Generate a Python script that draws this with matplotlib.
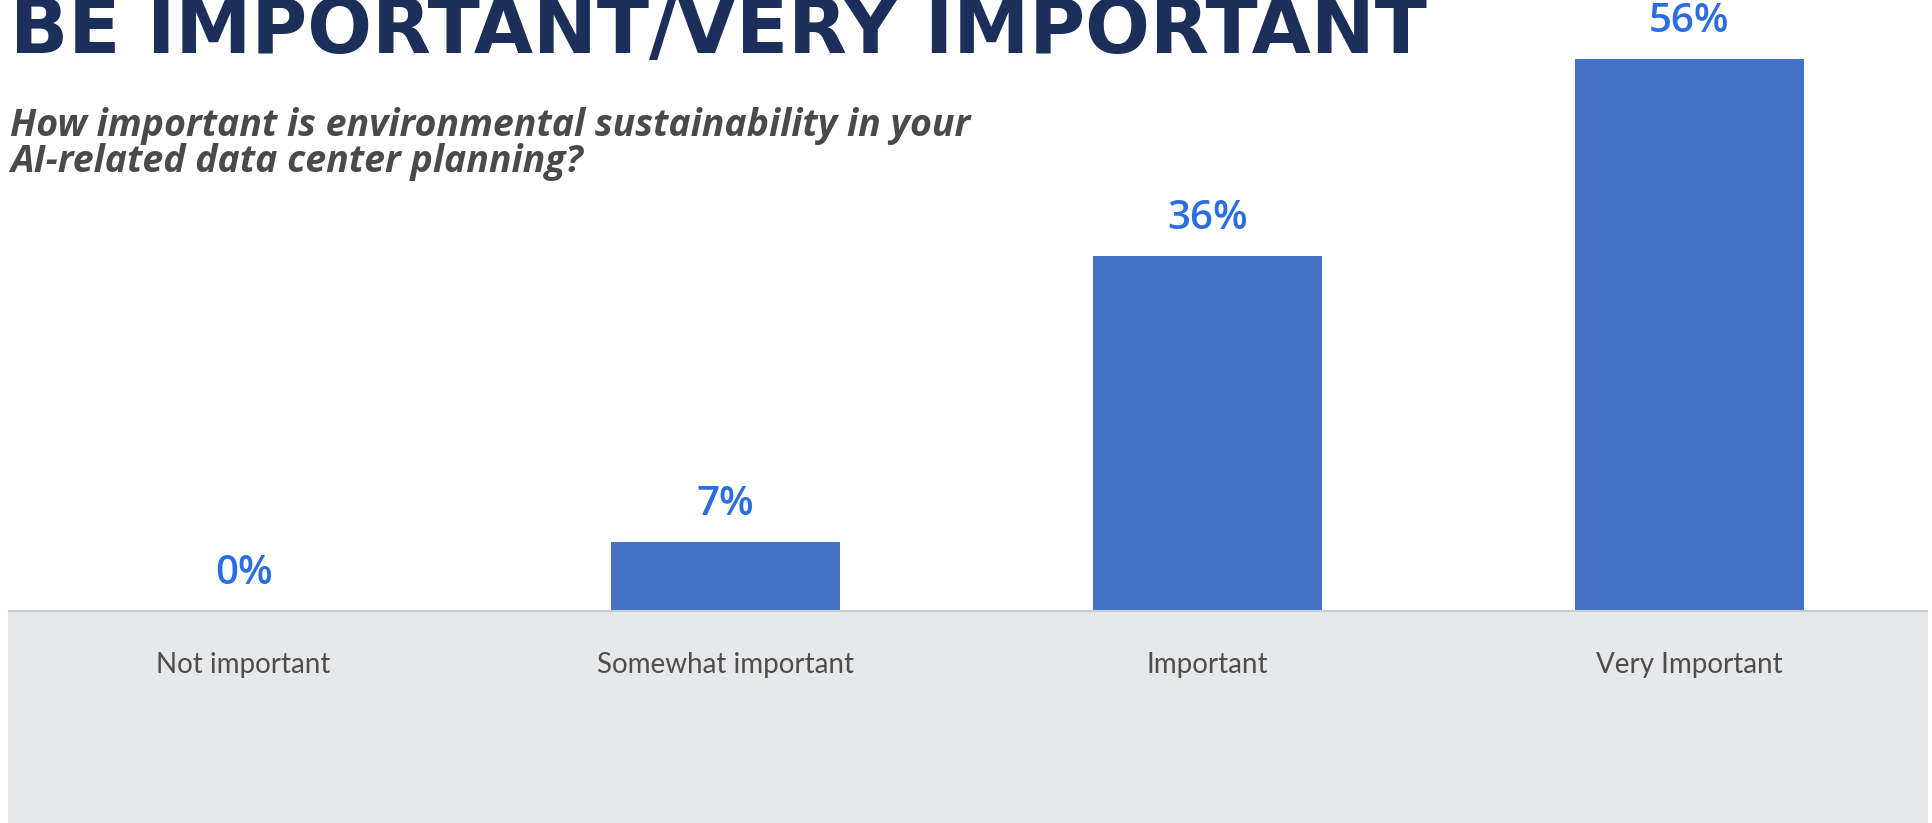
import matplotlib
matplotlib.use("Agg")
import matplotlib.pyplot as plt

# Survey responses
categories = ["Not important", "Somewhat important", "Important", "Very Important"]
shares = [0, 7, 36, 56]
value_labels = ["0%", "7%", "36%", "56%"]

title_text = "BE IMPORTANT/VERY IMPORTANT"
question_lines = [
    "How important is environmental sustainability in your",
    "AI-related data center planning?",
]

W, H = 1933, 823
fig = plt.figure(figsize=(W / 100, H / 100), dpi=100)
fig.patch.set_facecolor("white")

# Plot area spans nearly the full width; y scale chosen so the baseline sits at 611 px
px_per_unit = 9.85
base_px = 611
ax = fig.add_axes([8 / W, 0, 1920 / W, 1])
ax.set_xlim(-0.489, 3.495)
ax.set_ylim(-(H - base_px) / px_per_unit, base_px / px_per_unit)
ax.axis("off")

# Grey band under the bars holding the category names
ax.axhspan(ax.get_ylim()[0], 0, color="#e7e8ea", zorder=0, lw=0)
ax.axhline(0, color="#c6cdd5", lw=1.6, zorder=3)

x = range(len(categories))
ax.bar(x, shares, width=0.475, color="#4472c4", zorder=2)

for i, (v, lab) in enumerate(zip(shares, value_labels)):
    ax.annotate(lab, (i, v), xytext=(0, 19.4), textcoords="offset points",
                ha="center", va="baseline", color="#2b6ee4",
                fontsize=29, fontfamily="Open Sans", fontweight="semibold")

for i, name in enumerate(categories):
    ax.text(i, -54 / px_per_unit, name, ha="center", va="center",
            color="#4d4d4d", fontsize=20, fontfamily="Lato", fontweight="normal")

# Headline (runs off the top edge) and question
fig.text(10 / W, 1 - 53 / H, title_text, ha="left", va="baseline",
         color="#1c2e5a", fontsize=55, fontfamily="DejaVu Sans", fontweight="bold")
fig.text(10 / W, 1 - 136 / H, question_lines[0], ha="left", va="baseline",
         color="#4a4a4a", fontsize=27, fontfamily="Open Sans",
         fontweight="bold", fontstyle="italic")
fig.text(10 / W, 1 - 172 / H, question_lines[1], ha="left", va="baseline",
         color="#4a4a4a", fontsize=27, fontfamily="Open Sans",
         fontweight="bold", fontstyle="italic")

fig.savefig("out.png", dpi=100, facecolor="white")
